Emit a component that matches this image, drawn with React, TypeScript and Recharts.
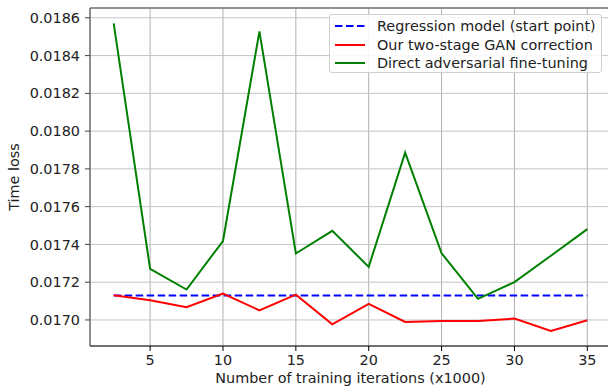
import {
  CartesianGrid,
  Legend,
  Line,
  LineChart,
  ReferenceLine,
  XAxis,
  YAxis,
} from "recharts";

const iterations = [2.5, 5, 7.5, 10, 12.5, 15, 17.5, 20, 22.5, 25, 27.5, 30, 32.5, 35];

const regressionLoss = [
  0.01713, 0.01713, 0.01713, 0.01713, 0.01713, 0.01713, 0.01713,
  0.01713, 0.01713, 0.01713, 0.01713, 0.01713, 0.01713, 0.01713,
];
const ganCorrectionLoss = [
  0.017131, 0.017104, 0.017067, 0.01714, 0.017051, 0.017134, 0.016977,
  0.017085, 0.016989, 0.016995, 0.016995, 0.017007, 0.016942, 0.016998,
];
const adversarialLoss = [
  0.018571, 0.01727, 0.017161, 0.017418, 0.018528, 0.017352, 0.017472,
  0.017281, 0.017886, 0.017353, 0.017112, 0.0172, 0.01734, 0.017481,
];

const xTicks = [5, 10, 15, 20, 25, 30, 35];
const yTicks = [0.017, 0.0172, 0.0174, 0.0176, 0.0178, 0.018, 0.0182, 0.0184, 0.0186];

const xDomain: [number, number] = [0.875, 36.625];
const yDomain: [number, number] = [0.016862, 0.018652];

const series = [
  { key: "regression", name: "Regression model (start point)", color: "#0000ff", dash: "7.5 3.5" },
  { key: "gan", name: "Our two-stage GAN correction", color: "#ff0000", dash: undefined },
  { key: "direct", name: "Direct adversarial fine-tuning", color: "#008000", dash: undefined },
];

const rows = iterations.map((it, i) => ({
  it,
  regression: regressionLoss[i],
  gan: ganCorrectionLoss[i],
  direct: adversarialLoss[i],
}));

const FONT = "'DejaVu Sans', sans-serif";
const FS = 14.4;
const tickStyle = { fontSize: FS, fill: "#222", fontFamily: FONT };

const LegendBox = () => (
  <div
    style={{
      width: 273,
      height: 59,
      boxSizing: "border-box",
      border: "1px solid #d0d0d0",
      borderRadius: 3,
      background: "rgba(255,255,255,0.85)",
      paddingTop: 2,
      fontFamily: FONT,
      fontSize: FS,
      color: "#222",
    }}
  >
    {series.map((s) => (
      <div key={s.key} style={{ display: "flex", alignItems: "center", height: 18.5 }}>
        <svg width={43} height={18} style={{ flex: "none" }}>
          <line
            x1={5}
            x2={35}
            y1={9}
            y2={9}
            stroke={s.color}
            strokeWidth={2}
            strokeDasharray={s.dash}
          />
        </svg>
        <span style={{ whiteSpace: "nowrap", marginLeft: 4 }}>{s.name}</span>
      </div>
    ))}
  </div>
);

const YTitle = ({ viewBox }: any) => {
  const cy = viewBox.y + viewBox.height / 2;
  return (
    <text
      x={14}
      y={cy}
      transform={`rotate(-90, 14, ${cy})`}
      textAnchor="middle"
      dominantBaseline="central"
      fontSize={FS}
      fontFamily={FONT}
      fill="#222"
    >
      Time loss
    </text>
  );
};

export default function App() {
  return (
    <div
      style={{
        position: "absolute",
        left: 0,
        top: 0,
        width: 608,
        height: 390,
        overflow: "hidden",
        background: "#fff",
      }}
    >
      <LineChart
        width={620}
        height={390}
        data={rows}
        margin={{ top: 8, right: 9, bottom: 0, left: 0 }}
      >
        <CartesianGrid horizontal={false} stroke="#b0b0b0" strokeWidth={1} />
        <CartesianGrid vertical={false} stroke="#c4c4c4" strokeWidth={1} />
        <XAxis
          dataKey="it"
          type="number"
          domain={xDomain}
          ticks={xTicks}
          allowDataOverflow
          height={44}
          tick={tickStyle}
          tickSize={5}
          tickMargin={4}
          stroke="#000"
          label={{
            value: "Number of training iterations (x1000)",
            position: "insideBottom",
            offset: 7,
            fontSize: FS,
            fontFamily: FONT,
            fill: "#222",
          }}
        />
        <YAxis
          type="number"
          domain={yDomain}
          ticks={yTicks}
          allowDataOverflow
          width={90}
          tick={tickStyle}
          tickSize={5}
          tickMargin={5}
          tickFormatter={(v: number) => v.toFixed(4)}
          stroke="#444"
          label={<YTitle />}
        />
        <ReferenceLine y={yDomain[1]} stroke="#777" strokeWidth={1.5} />
        <Legend
          layout="vertical"
          align="center"
          verticalAlign="middle"
          wrapperStyle={{ position: "absolute", left: 329, top: 14, width: 273 }}
          content={() => <LegendBox />}
        />
        {series.map((s) => (
          <Line
            key={s.key}
            dataKey={s.key}
            name={s.name}
            type="linear"
            stroke={s.color}
            strokeWidth={2}
            strokeDasharray={s.dash}
            dot={false}
            activeDot={false}
            isAnimationActive={false}
          />
        ))}
      </LineChart>
    </div>
  );
}
